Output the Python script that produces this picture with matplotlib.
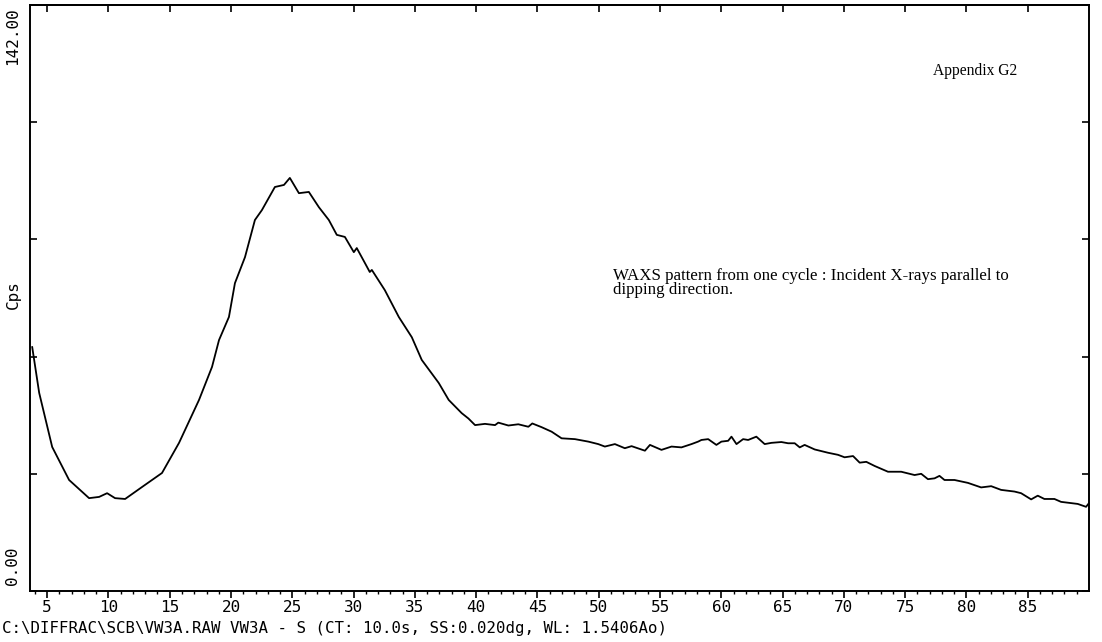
import matplotlib
matplotlib.use("Agg")
import matplotlib.pyplot as plt

# 2-theta (deg) and intensity (Cps)
two_theta = [3.78, 4.35, 5.41, 6.79, 8.42, 9.24, 9.89, 10.54, 11.36, 12.74,
             14.37, 15.76, 17.39, 18.45, 19.02, 19.83, 20.32, 21.14, 21.95, 22.52,
             23.58, 24.32, 24.80, 25.54, 26.35, 27.17, 27.98, 28.63, 29.29, 30.02,
             30.26, 30.92, 31.32, 31.49, 32.55, 33.69, 34.75, 35.56, 36.95, 37.76,
             38.82, 39.37, 39.91, 40.72, 41.54, 41.81, 42.63, 43.44, 44.26, 44.58,
             45.34, 46.16, 46.97, 48.06, 49.15, 49.96, 50.50, 51.32, 52.13, 52.68,
             53.77, 54.18, 55.12, 55.94, 56.75, 57.57, 58.11,
             58.38, 58.93, 59.60, 60.01, 60.56, 60.83, 61.24, 61.78, 62.19, 62.86,
             63.54, 64.09, 64.90, 65.45, 65.99, 66.40, 66.80, 67.62, 68.71, 69.52,
             70.06, 70.75, 71.29, 71.83, 72.51, 73.60, 74.68, 75.77, 76.31, 76.86,
             77.40, 77.80, 78.21, 79.03, 80.12, 81.20, 82.02, 82.83, 83.92, 84.46,
             85.28, 85.82, 86.36, 87.18, 87.72, 89.08, 89.76, 90.00]
cps = [59.1, 48.0, 34.9, 26.9, 22.5, 22.8, 23.7, 22.5, 22.3, 25.2,
       28.6, 35.9, 46.3, 54.3, 60.8, 66.4, 74.6, 80.9, 89.9, 92.3,
       97.9, 98.4, 100.1, 96.4, 96.7, 93.0, 89.9, 86.3, 85.8, 82.1,
       83.1, 79.5, 77.3, 77.8, 72.9, 66.4, 61.5, 56.0, 50.4, 46.3,
       43.1, 41.8, 40.2, 40.5, 40.2, 40.8, 40.1, 40.4, 39.8, 40.6,
       39.7, 38.6, 37.0, 36.8, 36.2, 35.6, 35.0, 35.6, 34.6, 35.1,
       34.0, 35.4, 34.2, 35.0, 34.8, 35.6, 36.2,
       36.6, 36.8, 35.4, 36.2, 36.4, 37.4, 35.6, 36.8, 36.6, 37.4,
       35.6, 35.9, 36.1, 35.8, 35.8, 34.8, 35.4, 34.3, 33.5, 33.0,
       32.4, 32.7, 31.1, 31.3, 30.3, 28.9, 28.9, 28.1, 28.4, 27.1,
       27.3, 27.9, 26.9, 26.9, 26.2, 25.1, 25.4, 24.5, 24.1, 23.7,
       22.2, 23.1, 22.3, 22.3, 21.6, 21.1, 20.4, 21.3]

x_major = [5, 10, 15, 20, 25, 30, 35, 40, 45, 50, 55, 60, 65, 70, 75, 80, 85]
x_minor = list(range(4, 90))
y_ticks = [0, 28.4, 56.8, 85.2, 113.6, 142.0]
y_min_label = "0.00"
y_max_label = "142.00"
y_axis_label = "Cps"
caption = r"C:\DIFFRAC\SCB\VW3A.RAW VW3A - S (CT: 10.0s, SS:0.020dg, WL: 1.5406Ao)"
note_title = "Appendix G2"
note_line1 = "WAXS pattern from one cycle : Incident X-rays parallel to"
note_line2 = "dipping direction."

W, H = 1102, 642
fig = plt.figure(figsize=(W / 100, H / 100), dpi=100)
fig.patch.set_facecolor("white")

def fx(px):
    return px / W

def fy(py):
    return 1 - py / H

ax = fig.add_axes([fx(30), fy(591), fx(1089) - fx(30), fy(5) - fy(591)])
ax.plot(two_theta, cps, color="black", lw=1.3)
ax.set_xlim(3.6, 90)
ax.set_ylim(0, 142)

for s in ax.spines.values():
    s.set_linewidth(1.4)

mono = "DejaVu Sans Mono"
ax.set_xticks(x_major)
ax.set_xticks(x_minor, minor=True)
ax.set_xticklabels([str(v) for v in x_major], fontfamily=mono, fontsize=11.5)
ax.tick_params(axis="x", which="major", direction="out", length=5, width=1.2, pad=1.5,
               top=False, bottom=True)
ax.tick_params(axis="x", which="minor", direction="out", length=2.2, width=1.0,
               top=False, bottom=True)

ax.set_yticks(y_ticks)
ax.set_yticklabels([])
ax.tick_params(axis="y", which="major", direction="in", length=5, width=1.2,
               left=True, right=True)

# top ticks every 5 degrees (inward)
axt = ax.secondary_xaxis("top")
axt.set_xticks(x_major)
axt.set_xticklabels([])
axt.tick_params(direction="in", length=5, width=1.2)
axt.spines["top"].set_linewidth(1.4)

fig.text(fx(13), fy(36), y_max_label, rotation=90, ha="center", va="center",
         fontfamily=mono, fontsize=11.5)
fig.text(fx(13), fy(566), y_min_label, rotation=90, ha="center", va="center",
         fontfamily=mono, fontsize=11.5)
fig.text(fx(13), fy(295), y_axis_label, rotation=90, ha="center", va="center",
         fontfamily=mono, fontsize=11.5)
fig.text(fx(2), fy(628), caption, ha="left", va="center",
         fontfamily=mono, fontsize=11.3)

serif = "Liberation Serif"
fig.text(fx(933), fy(75), note_title, ha="left", va="baseline",
         fontfamily=serif, fontsize=11.2)
fig.text(fx(613), fy(280), note_line1, ha="left", va="baseline",
         fontfamily=serif, fontsize=12.2)
fig.text(fx(613), fy(294), note_line2, ha="left", va="baseline",
         fontfamily=serif, fontsize=12.2)

fig.savefig("out.png", dpi=100, facecolor="white")
